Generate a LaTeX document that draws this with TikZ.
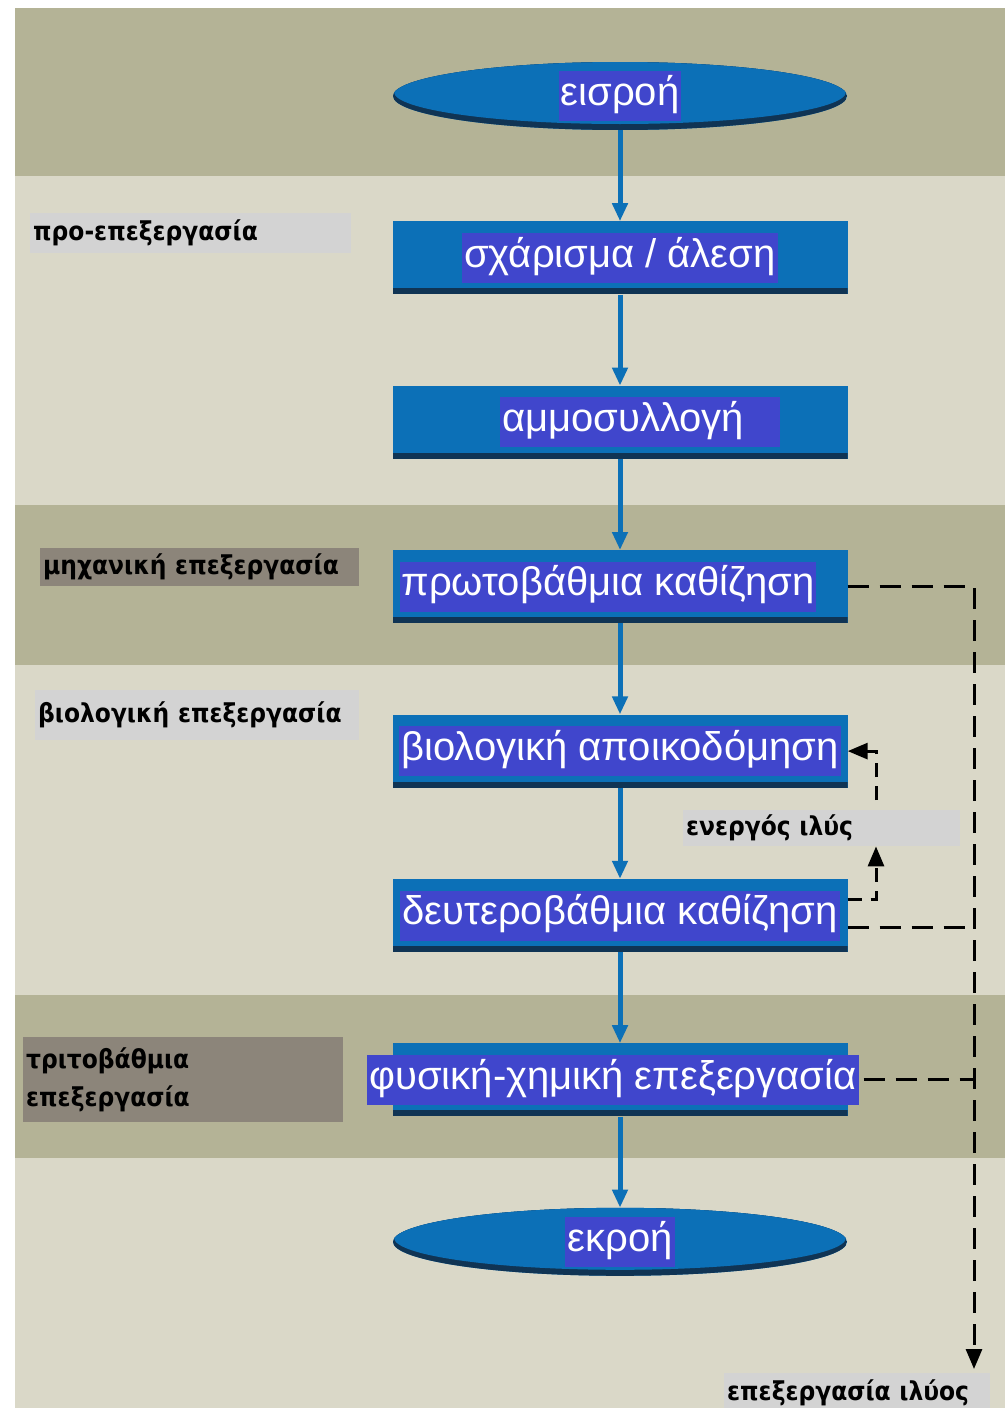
\documentclass[tikz,border=0pt]{standalone}
\usepackage{fontspec}
\setmainfont{Liberation Sans}
\newfontfamily\tagfont{DejaVu Sans Condensed}
\usetikzlibrary{arrows.meta,positioning,shapes.geometric}
\definecolor{olive}{RGB}{180,179,150}
\definecolor{sand}{RGB}{218,216,200}
\definecolor{ocean}{RGB}{12,112,183}
\definecolor{deep}{RGB}{16,52,84}
\definecolor{indigo}{RGB}{64,70,204}
\definecolor{silver}{RGB}{211,211,211}
\definecolor{taupe}{RGB}{140,133,122}
% white step label on its indigo patch; optional arg moves the patch sideways
\newcommand{\hl}[2][0pt]{\makebox[0pt]{\hspace*{#1}\smash{\raisebox{-9.2pt}{\setlength{\fboxsep}{2pt}\colorbox{indigo}{\strut #2}}}}}
\tikzset{
  flow/.style={-{Triangle[length=18pt,width=15pt]},line width=5pt,draw=ocean},
  sludge/.style={-{Triangle[length=20pt,width=16pt]},line width=3pt,dash pattern=on 21pt off 11pt},
  stepbox/.style={rectangle,fill=ocean,minimum width=455pt,minimum height=73pt,inner sep=0pt,
    text=white,font=\fontsize{40}{46}\selectfont,
    path picture={\fill[deep] (path picture bounding box.south west) rectangle
      ([yshift=6pt]path picture bounding box.south east);}},
  terminal/.style={ellipse,fill=ocean,minimum width=454pt,minimum height=68pt,inner sep=0pt,
    text=white,font=\fontsize{40}{46}\selectfont,
    path picture={\fill[deep] (path picture bounding box.south west) rectangle (path picture bounding box.north east);
      \fill[ocean] ([yshift=4pt]path picture bounding box.center) ellipse [x radius=226pt,y radius=32pt];}},
  tagbox/.style={fill=#1,anchor=north west,align=left,inner sep=3pt,
    font=\tagfont\bfseries\fontsize{26}{38}\selectfont},
  tagbox/.default=silver,
}
\begin{document}
\begin{tikzpicture}[x=1pt,y=-1pt,node distance=91pt]
  \useasboundingbox (0,0) rectangle (1008,1408);
  % process bands
  \foreach \ya/\yb/\col in {8/176/olive,176/505/sand,505/665/olive,665/995/sand,995/1158/olive,1158/1408/sand}
    \fill[\col] (15,\ya) rectangle (1005,\yb);

  % treatment train
  \node[terminal] (inflow) at (620,96) {\hl{εισροή}};
  \node[stepbox,below=of inflow] (screen) {\hl{σχάρισμα / άλεση}};
  \node[stepbox,below=of screen] (grit) {\hl[40pt]{αμμοσυλλογή\hspace{34pt}}};
  \node[stepbox,below=of grit] (primary) {\hl[-24pt]{πρωτοβάθμια καθίζηση}};
  \node[stepbox,below=of primary] (bio) {\hl{βιολογική αποικοδόμηση}};
  \node[stepbox,below=of bio] (secondary) {\hl{δευτεροβάθμια καθίζηση}};
  \node[stepbox,below=of secondary] (chem) {\hl[-14pt]{φυσική-χημική επεξεργασία}};
  \node[terminal,below=of chem] (outflow) {\hl{εκροή}};

  % stage tags
  \node[tagbox,text width=315pt,minimum height=40pt] (pre) at (30,213) {προ-επεξεργασία};
  \node[tagbox=taupe,text width=313pt,minimum height=38pt] (mech) at (40,548) {μηχανική επεξεργασία};
  \node[tagbox,text width=318pt,minimum height=50pt] (biotag) at (35,690) {βιολογική επεξεργασία};
  \node[tagbox=taupe,text width=314pt,minimum height=85pt] (tert) at (23,1037) {τριτοβάθμια\\επεξεργασία};
  \node[tagbox,text width=271pt,minimum height=36pt] (ras) at (683,810) {ενεργός ιλύς};
  \node[tagbox,text width=260pt,minimum height=40pt] (ilyos) at (724,1373) {επεξεργασία ιλύος};

  \foreach \a/\b in {inflow/screen,screen/grit,grit/primary,primary/bio,bio/secondary,secondary/chem,chem/outflow}
    \draw[flow] (\a) -- (\b);

  % sludge lines
  \coordinate (rail) at (974,0);
  \coordinate (riser) at (876,800);
  \draw[sludge,shorten >=4pt] (primary.east) -- (primary.east -| rail) -- (rail |- ilyos.north);
  \draw[sludge,-] ([yshift=-12pt]secondary.east) -- ([yshift=-12pt]secondary.east -| rail);
  \draw[sludge,-] ([xshift=16pt]chem.east) -- (chem.east -| rail);
  \draw[sludge,dash pattern=on 14pt off 9pt] ([yshift=16pt]secondary.east) -| (riser |- ras.south);
  \draw[sludge,dash pattern=on 14pt off 9pt] (riser) |- (bio.east);
\end{tikzpicture}
\end{document}
